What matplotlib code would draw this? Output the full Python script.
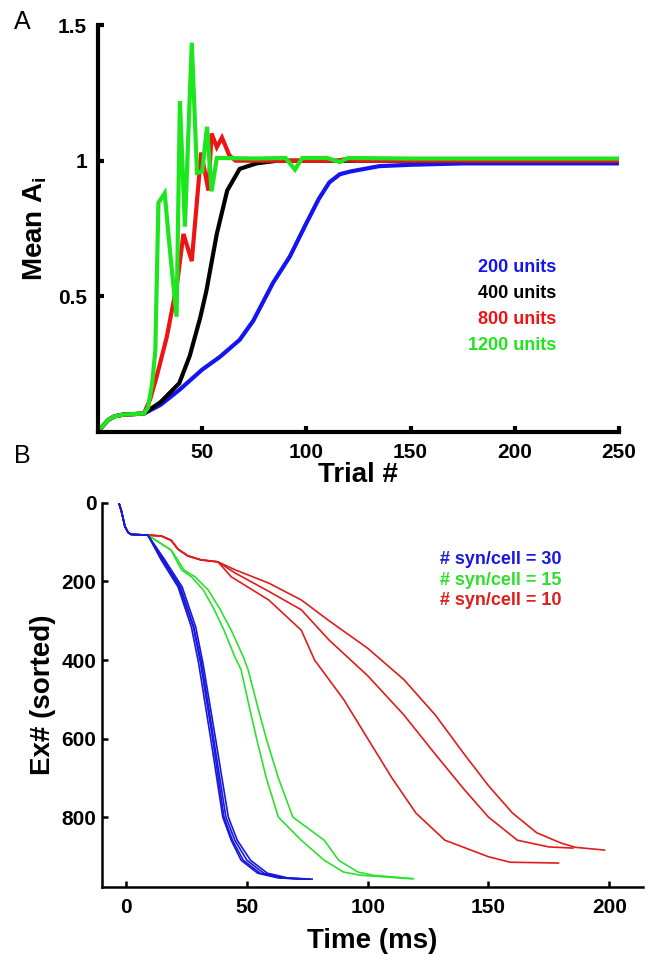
import matplotlib.pyplot as plt
import numpy as np

plt.rcParams['font.family'] = ['Liberation Sans', 'DejaVu Sans']
plt.rcParams['mathtext.fontset'] = 'custom'
plt.rcParams['mathtext.rm'] = 'Liberation Sans:bold'
plt.rcParams['mathtext.it'] = 'Liberation Sans:bold'

# ---- panel A: mean A_i vs trial, for network sizes
trial_200 = [0, 2, 5, 8, 12, 17, 22, 30, 39, 50, 58.5, 68, 74.5, 84, 92, 100, 106, 111, 116, 121, 135, 150, 175, 200, 225, 250]
a_200 = [0, 0.02, 0.045, 0.058, 0.064, 0.066, 0.068, 0.10, 0.155, 0.23, 0.277, 0.34, 0.41, 0.55, 0.646, 0.77, 0.86, 0.92, 0.95, 0.96, 0.98, 0.985, 0.99, 0.99, 0.99, 0.99]

trial_400 = [0, 2, 5, 8, 12, 17, 22, 30, 39, 44, 49, 52, 57, 62, 68, 76, 86, 150, 250]
a_400 = [0, 0.02, 0.045, 0.058, 0.064, 0.066, 0.068, 0.11, 0.18, 0.28, 0.42, 0.52, 0.73, 0.89, 0.97, 0.99, 1.0, 1.0, 1.0]

trial_800 = [0, 2, 5, 8, 12, 17, 22, 25, 28, 33, 38, 41, 45, 49.5, 53, 54.5, 57, 59.5, 63, 66, 115, 118, 125, 250]
a_800 = [0, 0.02, 0.045, 0.058, 0.064, 0.066, 0.068, 0.12, 0.20, 0.35, 0.55, 0.73, 0.63, 1.03, 0.89, 1.10, 1.05, 1.085, 1.02, 1.0, 1.0, 1.005, 1.0, 1.0]

trial_1200 = [0, 2, 5, 8, 12, 17, 22, 24, 26, 27.5, 29, 32, 34.5, 37.7, 39.3, 41.7, 45, 47.5, 50, 52.3, 54.5, 57, 60, 75, 90, 94.5, 98, 110, 116, 120, 150, 200, 250]
a_1200 = [0, 0.02, 0.045, 0.058, 0.064, 0.066, 0.068, 0.09, 0.18, 0.30, 0.845, 0.88, 0.67, 0.425, 1.22, 0.757, 1.435, 0.955, 0.96, 1.125, 0.887, 1.01, 1.01, 1.008, 1.01, 0.967, 1.01, 1.01, 0.995, 1.01, 1.008, 1.008, 1.008]

units_labels = ['200 units', '400 units', '800 units', '1200 units']
units_colors = ['#1414f0', '#000000', '#ee1414', '#1ee61e']

# ---- panel B: sorted first-spike times
idx_blue = [0, 20, 60, 75, 80, 82, 145, 214, 316, 408, 600, 800, 859, 910, 943, 955, 958]
t_blue_1 = [-3, -2, -0.5, 0.8, 2, 9, 14.5, 21.5, 27, 30, 35, 40, 43.5, 47.6, 54.5, 63, 77]
t_blue_2 = [-3, -2, -0.5, 0.8, 2, 9, 15.5, 22.5, 28, 31.2, 36.2, 41.3, 45, 50, 57, 66, 74]
t_blue_3 = [-3, -2, -0.5, 0.8, 2, 9, 15, 22, 27.8, 30.8, 35.8, 40.5, 44, 48.5, 55.5, 64, 72]
t_blue_4 = [-3, -2, -0.5, 0.8, 2, 9, 16, 23.2, 28.8, 31.8, 37, 42.3, 46, 51.5, 58.5, 67, 76]

idx_green = [0, 20, 60, 75, 80, 82, 120, 137, 171, 188, 222, 272, 324, 392, 425, 520, 600, 700, 800, 859, 910, 940, 948, 957]
t_green_1 = [-3, -2, -0.5, 0.8, 2, 9, 18.6, 20, 23, 27, 32, 36.5, 40.5, 45, 47.6, 51, 54, 58, 63, 72.5, 82, 90, 97, 118]
t_green_2 = [-3, -2, -0.5, 0.8, 2, 9, 18.6, 20.5, 24, 28.5, 34, 39, 43.5, 48.5, 50.5, 54.5, 58, 63, 69, 82, 88, 96, 102, 119]

t_red_1 = [-3, -2, -0.5, 0.8, 2, 9, 14.5, 18.6, 21.5, 25.6, 31, 38, 43.5, 59, 72.5, 78, 90, 100, 110, 120, 132, 150, 159, 179]
idx_red_1 = [0, 20, 60, 75, 80, 82, 84, 95, 118, 135, 145, 150, 188, 247, 324, 400, 500, 600, 700, 790, 859, 901, 915, 917]
t_red_2 = [-3, -2, -0.5, 0.8, 2, 9, 14.5, 18.6, 21.5, 25.6, 31, 38, 45, 59, 72.5, 84, 100, 115, 128, 140, 150, 162, 175, 185]
idx_red_2 = [0, 20, 60, 75, 80, 82, 84, 95, 118, 135, 145, 150, 178, 225, 272, 349, 440, 540, 640, 730, 800, 859, 876, 879]
t_red_3 = [-3, -2, -0.5, 0.8, 2, 9, 14.5, 18.6, 21.5, 25.6, 31, 38, 45, 59, 72.5, 84, 100, 115, 128, 140, 150, 160, 170, 180, 186, 198]
idx_red_3 = [0, 20, 60, 75, 80, 82, 84, 95, 118, 135, 145, 150, 170, 204, 247, 300, 370, 450, 540, 640, 720, 790, 840, 866, 877, 884]

syn_labels = ['# syn/cell = 30', '# syn/cell = 15', '# syn/cell = 10']
syn_colors = ['#1818dc', '#2ee02e', '#e01c1c']

fig = plt.figure(figsize=(6.46, 9.56), dpi=100)

# panel A
ax = fig.add_axes([0.1517, 0.5481, 0.8065, 0.4257])
for tr, a, c in zip([trial_200, trial_400, trial_800, trial_1200],
                    [a_200, a_400, a_800, a_1200], units_colors):
    ax.plot(tr, a, color=c, lw=3, solid_joinstyle='miter')
ax.set_xlim(0, 250)
ax.set_ylim(0, 1.5)
ax.set_xticks([50, 100, 150, 200, 250])
ax.set_yticks([0.5, 1, 1.5])
ax.set_yticklabels(['0.5', '1', '1.5'])
for s in ['top', 'right']:
    ax.spines[s].set_visible(False)
for s in ['left', 'bottom']:
    ax.spines[s].set_linewidth(3)
ax.tick_params(direction='in', length=4, width=3, labelsize=15, pad=8)
for lab in ax.get_xticklabels() + ax.get_yticklabels():
    lab.set_fontweight('bold')
ax.set_xlabel('Trial #', fontsize=20, fontweight='bold', labelpad=0)
ax.set_ylabel('Mean A$_\\mathrm{i}$', fontsize=20, fontweight='bold', labelpad=6)
for i, (lab, c) in enumerate(zip(units_labels, units_colors)):
    ax.text(0.88, 0.405 - i * 0.064, lab, color=c, fontsize=13, fontweight='bold',
            ha='right', va='center', transform=ax.transAxes)
fig.text(0.035, 0.977, 'A', fontsize=18, va='center', ha='center')

# panel B
bx = fig.add_axes([0.1579, 0.0722, 0.8375, 0.4017])
for tt, ii in [(t_red_1, idx_red_1), (t_red_2, idx_red_2), (t_red_3, idx_red_3)]:
    bx.plot(tt, ii, color=syn_colors[2], lw=1.2)
for tt in [t_green_1, t_green_2]:
    bx.plot(tt, idx_green, color=syn_colors[1], lw=1.2)
for tt in [t_blue_1, t_blue_2, t_blue_3, t_blue_4]:
    bx.plot(tt, idx_blue, color=syn_colors[0], lw=1.2)
bx.set_xlim(-10, 214)
bx.set_ylim(978, 0)
bx.set_xticks([0, 50, 100, 150, 200])
bx.set_yticks([0, 200, 400, 600, 800])
for s in ['top', 'right']:
    bx.spines[s].set_visible(False)
for s in ['left', 'bottom']:
    bx.spines[s].set_linewidth(1.8)
bx.tick_params(direction='in', length=4, width=1.8, labelsize=15)
bx.tick_params(axis='x', pad=8)
bx.tick_params(axis='y', pad=4)
for lab in bx.get_xticklabels() + bx.get_yticklabels():
    lab.set_fontweight('bold')
bx.set_xlabel('Time (ms)', fontsize=20, fontweight='bold', labelpad=8)
bx.set_ylabel('Ex# (sorted)', fontsize=20, fontweight='bold', labelpad=4)
for i, (lab, c) in enumerate(zip(syn_labels, syn_colors)):
    bx.text(0.625, 0.852 - i * 0.053, lab, color=c, fontsize=13, fontweight='bold',
            ha='left', va='center', transform=bx.transAxes)
fig.text(0.035, 0.523, 'B', fontsize=18, va='center', ha='center')

plt.savefig('out.png', dpi=100)
